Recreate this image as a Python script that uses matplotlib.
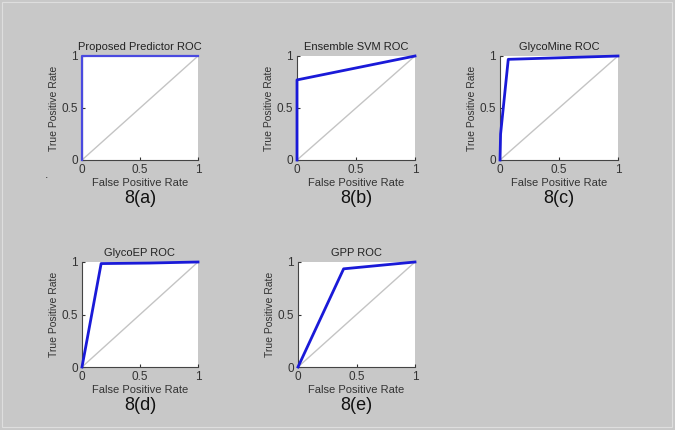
import matplotlib
matplotlib.use('Agg')
import matplotlib.pyplot as plt
from matplotlib.patches import Rectangle

plt.rcParams['font.family'] = ['Liberation Sans', 'DejaVu Sans']

titles = ['Proposed Predictor ROC', 'Ensemble SVM ROC', 'GlycoMine ROC',
          'GlycoEP ROC', 'GPP ROC']
tags = ['8(a)', '8(b)', '8(c)', '8(d)', '8(e)']

fpr_a = [0, 0, 1]
tpr_a = [0, 1, 1]
fpr_b = [0, 0, 1]
tpr_b = [0, 0.77, 1]
fpr_c = [0, 0.005, 0.07, 1]
tpr_c = [0, 0.25, 0.968, 1]
fpr_d = [0, 0.165, 0.58, 1]
tpr_d = [0, 0.985, 0.99, 1]
fpr_e = [0, 0.39, 1]
tpr_e = [0, 0.935, 1]

fprs = [fpr_a, fpr_b, fpr_c, fpr_d, fpr_e]
tprs = [tpr_a, tpr_b, tpr_c, tpr_d, tpr_e]

# axes boxes in pixels: left, top, right, bottom
W, H = 675, 430
boxes = [(82, 56, 198, 160), (297, 56, 415, 160), (500, 56, 618, 160),
         (82, 262, 198, 367), (298, 262, 415, 367)]

fig = plt.figure(figsize=(6.75, 4.3), dpi=100)
fig.patch.set_facecolor('#c8c8c8')

# thin light frame round the picture
fig.patches.append(Rectangle((2 / W, 3 / H), 1 - 5 / W, 1 - 5 / H,
                             transform=fig.transFigure, fill=False,
                             edgecolor='#dedede', lw=0.8))

for i, (l, t, r, b) in enumerate(boxes):
    ax = fig.add_axes([l / W, 1 - b / H, (r - l) / W, (b - t) / H])
    ax.set_facecolor('white')
    ax.plot([0, 1], [0, 1], color='#c4c4c4', lw=1.0, zorder=2)
    if i == 0:
        ax.plot(fprs[i], tprs[i], color='#4a4ae0', lw=1.6, zorder=3, clip_on=False)
    else:
        ax.plot(fprs[i], tprs[i], color='#1a1ad8', lw=2.0, zorder=3, clip_on=False)
    ax.set_xlim(0, 1)
    ax.set_ylim(0, 1)
    ax.set_xticks([0, 0.5, 1])
    ax.set_yticks([0, 0.5, 1])
    ax.set_xticklabels(['0', '0.5', '1'])
    ax.set_yticklabels(['0', '0.5', '1'])
    ax.tick_params(direction='in', length=2, width=0.8, labelsize=8.5,
                   colors='#333333', pad=3)
    for s in ['top', 'right']:
        ax.spines[s].set_visible(False)
    for s in ['left', 'bottom']:
        ax.spines[s].set_color('#444444')
        ax.spines[s].set_linewidth(0.8)
    ax.set_title(titles[i], fontsize=8, color='#222222', pad=4)
    ax.set_xlabel('False Positive Rate', fontsize=8, color='#333333', labelpad=1)
    ax.set_ylabel('True Positive Rate', fontsize=7.5, color='#333333', labelpad=2)
    ax.text(0.5, -0.37, tags[i], transform=ax.transAxes, ha='center', va='center',
            fontsize=13, color='#111111')

fig.text(45 / W, 1 - 178 / H, '.', fontsize=9, color='#333333')

plt.savefig('out.png', dpi=100, facecolor=fig.get_facecolor())
